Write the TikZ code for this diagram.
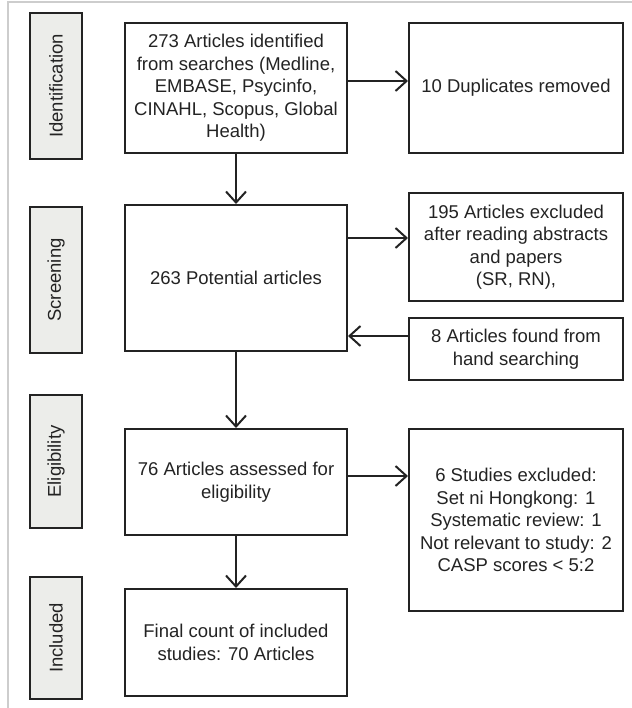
\documentclass[tikz,border=0pt]{standalone}
\usepackage{fontspec}
\setmainfont{Liberation Sans}
\usetikzlibrary{arrows.meta}
\definecolor{ink}{RGB}{35,35,35}
\definecolor{phasegray}{RGB}{236,237,234}
\definecolor{framegray}{RGB}{205,205,205}
\begin{document}
\begin{tikzpicture}[x=1bp, y=-1bp,
    font=\fontsize{18.5bp}{22.5bp}\selectfont, text=ink,
    box/.style={draw=ink, line width=2bp, align=center, inner sep=0pt},
    phase/.style={box, fill=phasegray, minimum width=52bp},
    flow/.style={draw=ink, line width=2bp, -{Straight Barb[length=11bp, width=20bp, line width=2bp]}}]
\useasboundingbox (0,0) rectangle (632,708);

% frame
\draw [framegray, line width=1.2bp] (8,708) -- (8,2) -- (632,2);

% phases
\node [phase, minimum height=146bp] (ident) at (56,86) {\rotatebox{90}{Identification}};
\node [phase, minimum height=146bp] (screen) at (56,280) {\rotatebox{90}{Screening}};
\node [phase, minimum height=133bp] (elig) at (56,461.5) {\rotatebox{90}{Eligibility}};
\node [phase, minimum height=122bp] (incl) at (56,638) {\rotatebox{90}{Included}};

% main column
\node [box, minimum width=222bp, minimum height=130bp] (found) at (236,88)
    {273 Articles identified\\from searches (Medline,\\EMBASE, Psycinfo,\\CINAHL, Scopus, Global\\Health)};
\node [box, minimum width=222bp, minimum height=146bp] (potential) at (236,278)
    {263 Potential articles};
\node [box, minimum width=222bp, minimum height=106bp] (assessed) at (236,482)
    {76 Articles assessed for\\eligibility};
\node [box, minimum width=222bp, minimum height=107bp] (final) at (236,642.5)
    {Final count of included\\studies: 70 Articles};

% side column
\node [box, minimum width=214bp, minimum height=130bp] (dupl) at (516,88)
    {10 Duplicates removed};
\node [box, minimum width=214bp, minimum height=108bp] (abstr) at (516,247)
    {195 Articles excluded\\after reading abstracts\\and papers\\(SR, RN),};
\node [box, minimum width=214bp, minimum height=62bp] (hand) at (516,349)
    {8 Articles found from\\hand searching};
\node [box, minimum width=214bp, minimum height=182bp] (studies) at (516,520)
    {6 Studies excluded:\\Set ni Hongkong: 1\\Systematic review: 1\\Not relevant to study: 2\\CASP scores < 5:2};

% arrows
\draw [flow] (found) -- (potential);
\draw [flow] (potential) -- (assessed);
\draw [flow] (assessed) -- (final);
\draw [flow] ([yshift=7bp]found.east) -- ([yshift=7bp]found.east -| dupl.west);
\draw [flow] ([yshift=9bp]abstr.west -| potential.east) -- ([yshift=9bp]abstr.west);
\draw [flow] ([yshift=13bp]hand.west) -- ([yshift=13bp]hand.west -| potential.east);
\draw [flow] ([yshift=6bp]assessed.east) -- ([yshift=6bp]assessed.east -| studies.west);

\end{tikzpicture}
\end{document}
